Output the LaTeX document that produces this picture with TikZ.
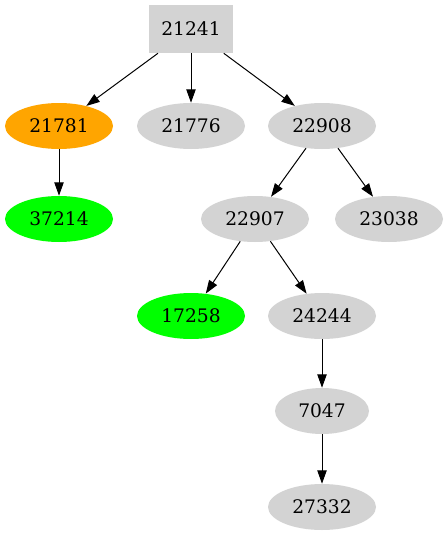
\documentclass[tikz,border=0pt]{standalone}
\usepackage{fontspec}
\setmainfont{DejaVu Serif}
\usepackage{xcolor}
\definecolor{nodegray}{HTML}{D3D3D3}
\definecolor{nodeorange}{HTML}{FFA500}
\definecolor{nodegreen}{HTML}{00FF00}
\usetikzlibrary{arrows.meta, shapes.geometric}

\begin{document}
\begin{tikzpicture}[
  x=0.75pt, y=-0.75pt,
  rootbox/.style={rectangle, fill=nodegray, minimum width=63pt, minimum height=36pt, inner sep=0pt, font=\fontsize{14}{16}\selectfont},
  leaf/.style={ellipse, fill=nodegray, minimum width=81pt, minimum height=34.5pt, inner sep=0pt, font=\fontsize{14}{16}\selectfont},
  hot/.style={leaf, fill=nodeorange},
  done/.style={leaf, fill=nodegreen},
  edge/.style={-{Triangle[length=10pt, width=7pt]}, line width=0.75pt},
]
\useasboundingbox (0,0) rectangle (447,539);
\node[rootbox] (n21241) at (191,29) {21241};
\node[hot] (n21781) at (59,126) {21781};
\node[leaf] (n21776) at (191,126) {21776};
\node[leaf] (n22908) at (322,126) {22908};
\node[done] (n37214) at (59,219) {37214};
\node[leaf] (n22907) at (255,219) {22907};
\node[leaf] (n23038) at (389,219) {23038};
\node[done] (n17258) at (191,316) {17258};
\node[leaf] (n24244) at (322,316) {24244};
\node[leaf, minimum width=70.5pt] (n7047) at (322,411) {7047};
\node[leaf] (n27332) at (322,507) {27332};
\draw[edge] (n21241) -- (n21781);
\draw[edge] (n21241) -- (n21776);
\draw[edge] (n21241) -- (n22908);
\draw[edge] (n21781) -- (n37214);
\draw[edge] (n22908) -- (n22907);
\draw[edge] (n22908) -- (n23038);
\draw[edge] (n22907) -- (n17258);
\draw[edge] (n22907) -- (n24244);
\draw[edge] (n24244) -- (n7047);
\draw[edge] (n7047) -- (n27332);
\end{tikzpicture}
\end{document}
